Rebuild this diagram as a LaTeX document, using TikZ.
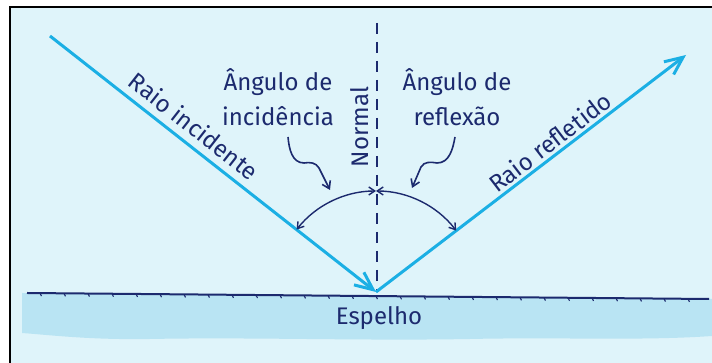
\documentclass[tikz,border=0pt]{standalone}
\usepackage{fontspec}
\setmainfont{Fira Sans}
\usetikzlibrary{arrows.meta,calc}
\definecolor{bgc}{RGB}{223,244,250}
\definecolor{bandc}{RGB}{185,228,243}
\definecolor{rayc}{RGB}{27,175,228}
\definecolor{navy}{RGB}{28,42,110}
\begin{document}
\begin{tikzpicture}[x=1pt,y=1pt,
  ray/.style={draw=rayc, line width=3pt},
  rayarrow/.style={-{Straight Barb[length=18pt,width=16pt]}},
  lbl/.style={text=navy, font=\fontsize{24}{35}\selectfont, inner sep=0pt},
  angarc/.style={draw=navy, line width=1.4pt, {Straight Barb[length=6pt,width=8pt]}-{Straight Barb[length=6pt,width=8pt]}},
  pointer/.style={draw=navy, line width=1.6pt, -{Straight Barb[length=7pt,width=9pt]}},
  normalline/.style={draw=navy, line width=1.5pt, dash pattern=on 11pt off 8pt},
  mirror/.style={draw=navy, line width=2pt},
  frameline/.style={draw=black, line width=2pt}
]
\useasboundingbox (0,0) rectangle (712,363);
\fill[bgc] (10,0) rectangle (712,356);
% mirror band
\fill[bandc] (22,70) -- (712,64) -- (712,27)
  .. controls (640,22) and (560,26) .. (470,24)
  .. controls (360,22) and (250,26) .. (150,24)
  .. controls (90,23) and (50,28) .. (22,30) -- cycle;
\draw[frameline] (10,0) -- (10,356) -- (712,356);

\coordinate (V) at (376,71);
\coordinate (A) at (50,327);
\coordinate (B) at (686,308);
\coordinate (Ntop) at (377,340);
\coordinate (Nbot) at (377,72);
\coordinate (ML) at (27,70);
\coordinate (MR) at (709,64);

% mirror
\draw[mirror] (ML) -- (MR);
\foreach \x in {40,64,...,700} {
  \draw[navy, line width=1.1pt] (\x,{70-6*(\x-27)/682}) -- ++(1.5,-3);
}

% normal
\draw[normalline] (Ntop) -- (Nbot);

% rays
\draw[ray, rayarrow] (A) -- (V);
\draw[ray, rayarrow] (V) -- (B);

% angle arcs
\coordinate (L1) at ($(V)+(141.8:101)$);
\coordinate (R1) at ($(V)+(37.4:101)$);
\draw[angarc] (L1) arc[start angle=141.8, end angle=90, radius=101];
\draw[angarc] (R1) arc[start angle=37.4, end angle=90, radius=101];

% pointers
\coordinate (pl0) at (288,226);
\coordinate (pl1) at (304,200);
\coordinate (pl2) at (319,195);
\coordinate (pl3) at (330,173);
\draw[pointer] (pl0) to[out=-85,in=180] (pl1) to[out=10,in=120] (pl2) -- (pl3);
\coordinate (pr0) at (455,226);
\coordinate (pr1) at (437,200);
\coordinate (pr2) at (421,196);
\coordinate (pr3) at (412,175);
\draw[pointer] (pr0) to[out=-100,in=0] (pr1) to[out=170,in=60] (pr2) -- (pr3);

% labels
\node[lbl, align=center] (ai) at (278,266) {Ângulo de\\incidência};
\node[lbl, align=center] (ar) at (457,266) {Ângulo de\\reflexão};
\node[lbl, rotate=90] (nl) at (360,236) {Normal};
\node[lbl, rotate=-38.1] (ri) at (194,237) {Raio incidente};
\node[lbl, rotate=37.4] (rr) at (550,221) {Raio refletido};
\node[lbl] (es) at (379,45) {Espelho};
\end{tikzpicture}
\end{document}
